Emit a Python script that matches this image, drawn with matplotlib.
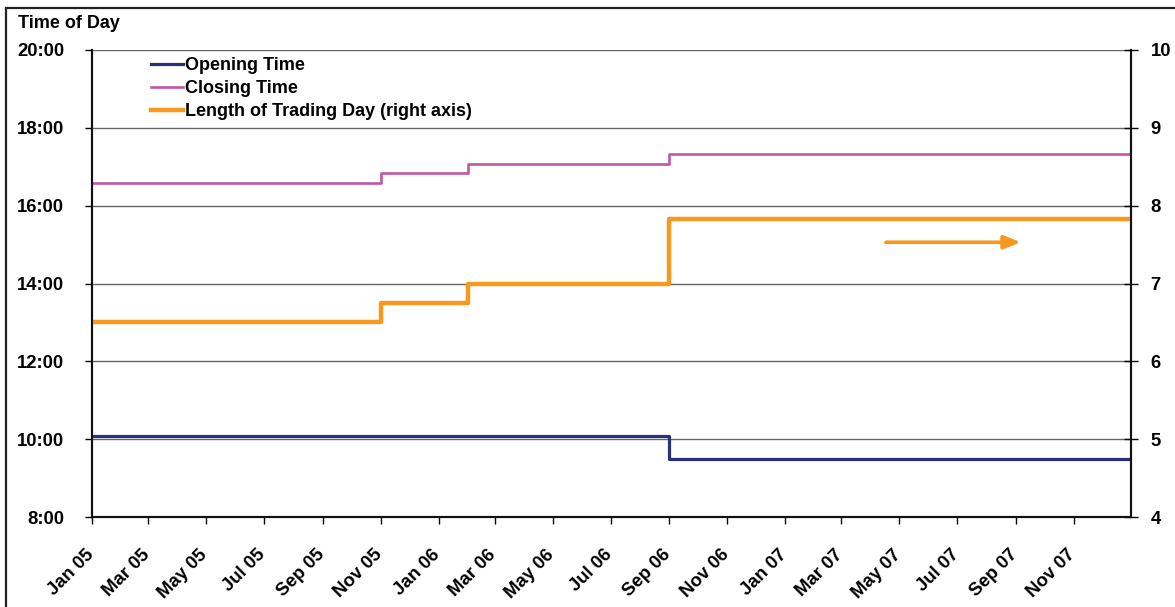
import matplotlib
matplotlib.use("Agg")
import matplotlib.pyplot as plt
import matplotlib.dates as mdates
import matplotlib.transforms as mtransforms
from matplotlib.patches import Rectangle
import pandas as pd

# trading-hour changes (dates where a new schedule starts, last entry closes the series)
change_dates = pd.to_datetime(["2005-01-01", "2005-11-01", "2006-02-01", "2006-09-01", "2007-12-31"])
opening_time = [10 + 5 / 60, 10 + 5 / 60, 10 + 5 / 60, 9.5, 9.5]        # hours
closing_time = [16 + 35 / 60, 16 + 50 / 60, 17 + 5 / 60, 17 + 20 / 60, 17 + 20 / 60]
day_length = [6.5, 6.75, 7.0, 7 + 50 / 60, 7 + 50 / 60]                # hours, right axis

arrow_start = (pd.Timestamp("2007-04-17"), 7.53)
arrow_end = (pd.Timestamp("2007-09-06"), 7.53)

NAVY = "#2b2f7f"
PINK = "#c056a8"
ORANGE = "#f7991f"

plt.rcParams["font.family"] = ["Liberation Sans", "DejaVu Sans"]
plt.rcParams["font.weight"] = "bold"

fig = plt.figure(figsize=(11.75, 6.07), dpi=100)
ax = fig.add_axes([92 / 1175, 1 - 517 / 607, (1131 - 92) / 1175, (517 - 50) / 607])
ax2 = ax.twinx()

l1, = ax.step(change_dates, opening_time, where="post", color=NAVY, lw=2.3, label="Opening Time")
l2, = ax.step(change_dates, closing_time, where="post", color=PINK, lw=1.9, label="Closing Time")
l3, = ax2.step(change_dates, day_length, where="post", color=ORANGE, lw=3.2, label="Length of Trading Day (right axis)")

ax2.annotate("", xy=arrow_end, xytext=arrow_start,
             arrowprops=dict(arrowstyle="-|>,head_length=1.0,head_width=0.4", color=ORANGE, lw=2.6,
                             shrinkA=0, shrinkB=0))

ax.set_xlim(change_dates[0], change_dates[-1])
ax.set_ylim(8, 20)
ax.set_yticks(range(8, 21, 2))
ax.set_yticklabels([f"{h}:00" for h in range(8, 21, 2)])
ax2.set_ylim(4, 10)
ax2.set_yticks(range(4, 11))

ax.xaxis.set_major_locator(mdates.MonthLocator(bymonth=[1, 3, 5, 7, 9, 11]))
ax.xaxis.set_major_formatter(mdates.DateFormatter("%b %y"))
ax.tick_params(axis="x", direction="out", length=5, width=1, pad=16)
shift = mtransforms.ScaledTranslation(5 / 100, 0, fig.dpi_scale_trans)
for lbl in ax.get_xticklabels():
    lbl.set_rotation(45)
    lbl.set_ha("right")
    lbl.set_fontsize(13.3)
    lbl.set_fontweight("bold")
    lbl.set_transform(lbl.get_transform() + shift)

ax.grid(axis="y", color="#666666", lw=1)
ax.set_axisbelow(True)
ax.tick_params(axis="y", direction="out", length=5, width=1, pad=15, labelsize=13.3)
ax2.tick_params(axis="y", direction="inout", length=10, width=1, pad=9, labelsize=13.3)

for a in (ax, ax2):
    a.spines["top"].set_visible(False)
    for side in ("left", "right", "bottom"):
        a.spines[side].set_linewidth(1.5)
        a.spines[side].set_color("#111111")

ax.legend(handles=[l1, l2, l3], loc="upper left", bbox_to_anchor=(0.05, 1.0),
          frameon=False, fontsize=13, handlelength=1.75, handletextpad=0.1,
          labelspacing=0.33, borderaxespad=0)

fig.text(18 / 1175, 1 - 23 / 607, "Time of Day", fontsize=13, fontweight="bold", va="center", ha="left")

# outer frame around the whole chart
fig.patches.append(Rectangle((6 / 1175, -0.05), 1.1, 1 - 8 / 607 + 0.05, transform=fig.transFigure,
                             fill=False, edgecolor="#222222", lw=1.6))

fig.savefig("out.png", dpi=100)
